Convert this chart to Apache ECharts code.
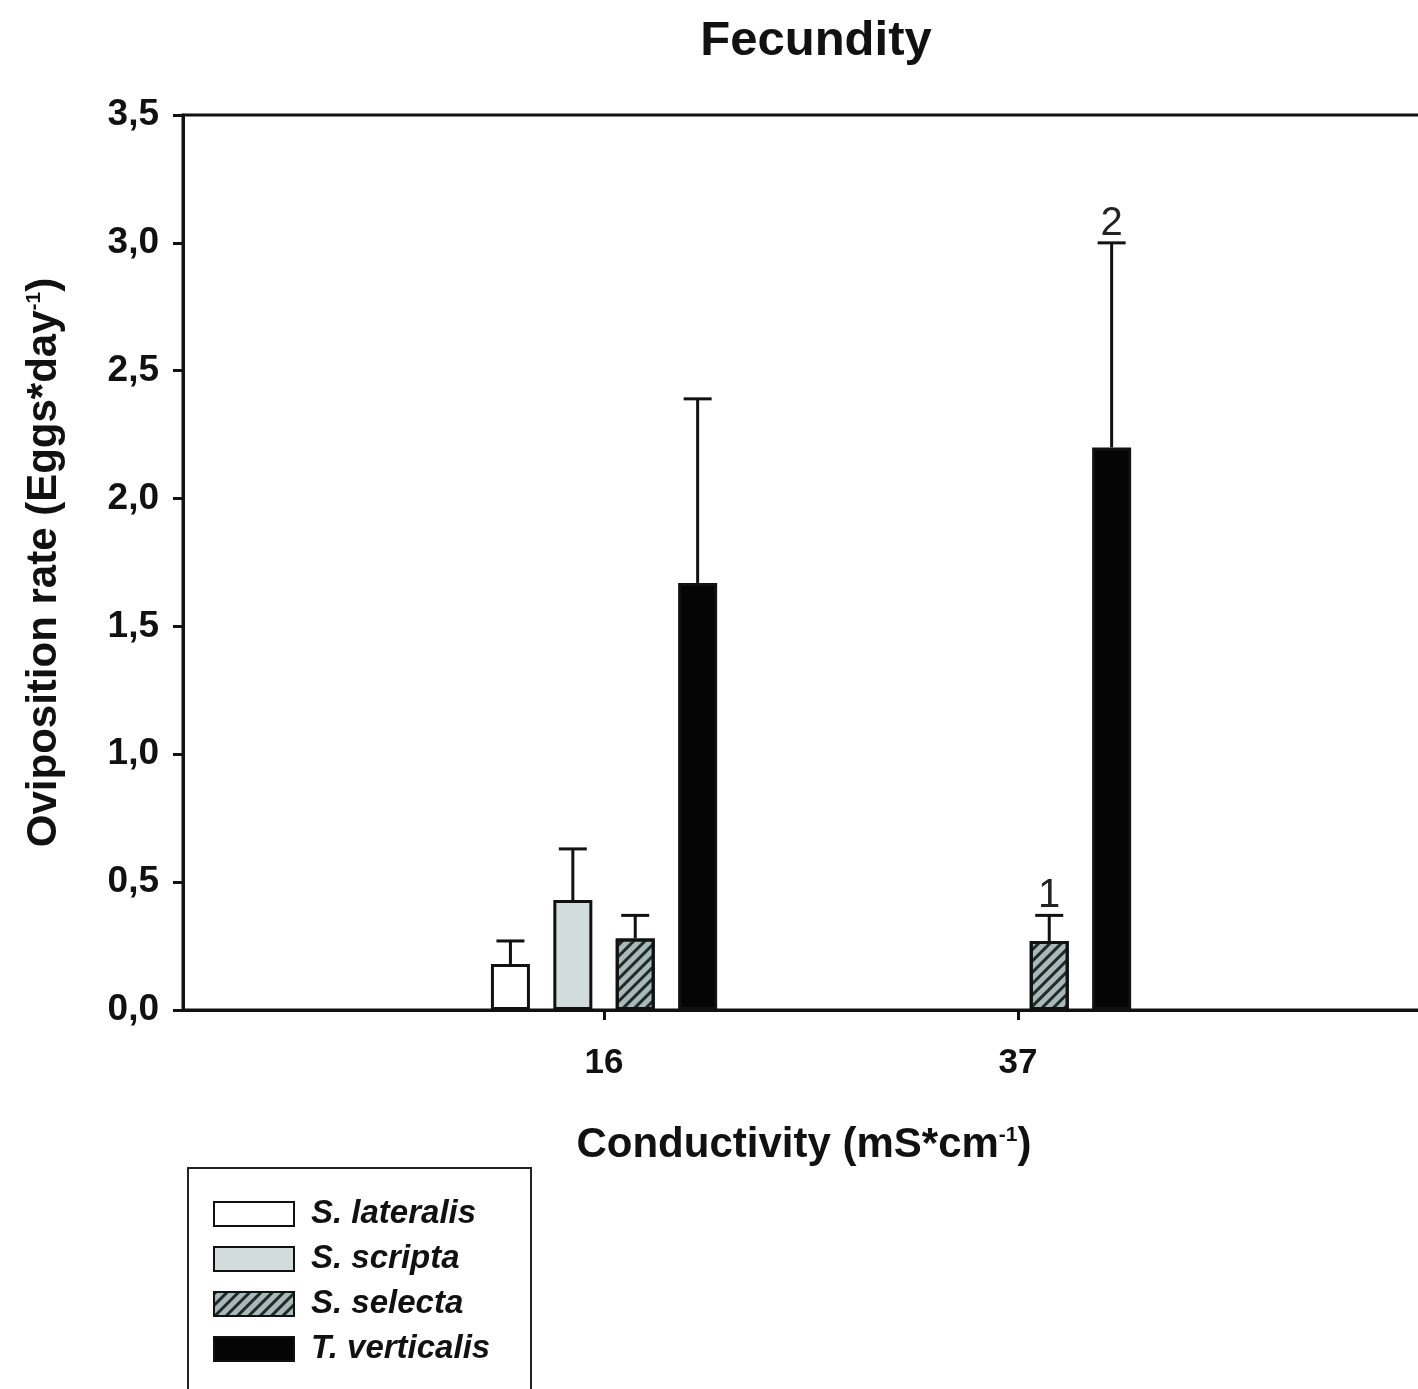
<!DOCTYPE html>
<html>
<head>
<meta charset="utf-8">
<script src="https://cdn.jsdelivr.net/npm/echarts@6/dist/echarts.min.js"></script>
<style>
html,body{margin:0;padding:0;background:#fff;overflow:hidden;}
#chart{width:1440px;height:1389px;}
</style>
</head>
<body>
<div id="chart"></div>
<script>
// ---- data ----
var categories = ['16', '37'];          // conductivity groups (drawn at slots 1 and 2)
var categorySlots = [1, 2];
var speciesNames = ['S. lateralis', 'S. scripta', 'S. selecta', 'T. verticalis'];
var lateralisMean = [0.18, null];
var scriptaMean   = [0.43, null];
var selectaMean   = [0.28, 0.27];
var verticalisMean= [1.67, 2.20];
var lateralisUpper = [0.27, null];
var scriptaUpper   = [0.63, null];
var selectaUpper   = [0.37, 0.37];
var verticalisUpper= [2.39, 3.00];
// significance labels: [groupIndex, speciesIndex, text]
var sigLabels = [[1, 2, '1'], [1, 3, '2']];
var yTicksMin = 0, yTicksMax = 3.5, yTicksStep = 0.5;

var means = [lateralisMean, scriptaMean, selectaMean, verticalisMean];
var uppers = [lateralisUpper, scriptaUpper, selectaUpper, verticalisUpper];

var BAR_W = 39, BAR_GAP = 0.6;
var fills = ['#ffffff', '#d3dcdc', '#a9b9b9', '#050505'];

var chart = echarts.init(document.getElementById('chart'), null, {renderer: 'canvas'});

var series = speciesNames.map(function (name, s) {
  var it = {color: fills[s], borderColor: '#111', borderWidth: 3};
  if (s === 2) {
    it.decal = {symbol: 'rect', symbolSize: 1, dashArrayX: [1, 0], dashArrayY: [2.5, 4.5], rotation: -Math.PI / 4, color: '#1e2b2b'};
  }
  var d = [];
  means[s].forEach(function (v, g) { if (v != null) d.push([categorySlots[g], v]); });
  return {
    name: name, type: 'bar', barWidth: BAR_W, barGap: (BAR_GAP * 100) + '%',
    data: d, itemStyle: it, emphasis: {disabled: true}, z: 2
  };
});

var errData = [];
means.forEach(function (arr, s) {
  arr.forEach(function (v, g) {
    if (v != null) errData.push([categorySlots[g], v, uppers[s][g], s, g]);
  });
});

series.push({
  type: 'custom', name: 'err', z: 3, silent: true,
  encode: {x: 0, y: 2},
  data: errData,
  renderItem: function (params, api) {
    var c = api.value(0), s = api.value(3), g = api.value(4);
    var off = (s - 1.5) * BAR_W * (1 + BAR_GAP);
    var base = api.coord([c, api.value(1)]);
    var top = api.coord([c, api.value(2)]);
    var x = base[0] + off;
    var children = [
      {type: 'line', shape: {x1: x, y1: base[1], x2: x, y2: top[1]}, style: {stroke: '#111', lineWidth: 3}},
      {type: 'line', shape: {x1: x - 14, y1: top[1], x2: x + 14, y2: top[1]}, style: {stroke: '#111', lineWidth: 3}}
    ];
    sigLabels.forEach(function (l) {
      if (l[0] === g && l[1] === s) {
        children.push({type: 'text', style: {text: l[2], x: x, y: top[1] + 1, align: 'center', verticalAlign: 'bottom', font: 'normal 40px "Liberation Sans", Arial, sans-serif', fill: '#222'}});
      }
    });
    return {type: 'group', children: children};
  }
});

var font = '"Liberation Sans", Arial, Helvetica, sans-serif';

chart.setOption({
  animation: false,
  backgroundColor: '#fff',
  title: {
    text: 'Fecundity', left: 811, top: 12, textAlign: 'center',
    textStyle: {fontFamily: font, fontWeight: 'bold', fontSize: 49, color: '#111'}
  },
  graphic: [{
    type: 'rect', left: 187, top: 1167, z: 0, silent: true,
    shape: {width: 343, height: 300},
    style: {fill: '#fff', stroke: '#222', lineWidth: 2}
  }],
  grid: {left: 183, top: 115, width: 1242, height: 895, show: true, borderColor: '#111', borderWidth: 3, backgroundColor: 'transparent'},
  legend: {
    orient: 'vertical', left: 213, top: 1197,
    padding: 0,
    itemWidth: 80, itemHeight: 24, itemGap: 11,
    icon: 'rect', z: 5,
    data: speciesNames,
    textStyle: {fontFamily: font, fontWeight: 'bold', fontStyle: 'italic', fontSize: 33, color: '#111', lineHeight: 34, padding: [0, 0, 0, 12]},
    selectedMode: false
  },
  xAxis: {
    type: 'value', min: -0.017, max: 2.983,
    axisLine: {show: true, onZero: false, lineStyle: {color: '#111', width: 3}},
    axisTick: {show: true, length: 10, lineStyle: {color: '#111', width: 3}, customValues: categorySlots},
    axisLabel: {fontFamily: font, fontWeight: 'bold', fontSize: 35, color: '#111', margin: 36,
      customValues: categorySlots,
      formatter: function (v) { var i = categorySlots.indexOf(Math.round(v)); return i >= 0 ? categories[i] : ''; }},
    splitLine: {show: false},
    name: 'Conductivity (mS*cm{sup|-1})', nameLocation: 'middle', nameGap: 114,
    nameTextStyle: {fontFamily: font, fontWeight: 'bold', fontSize: 42, color: '#111',
      rich: {sup: {fontFamily: font, fontWeight: 'bold', fontSize: 21, color: '#111', padding: [0, 0, 20, 0]}}}
  },
  yAxis: {
    type: 'value', min: yTicksMin, max: yTicksMax, interval: yTicksStep,
    axisLine: {show: true, onZero: false, lineStyle: {color: '#111', width: 3}},
    axisTick: {show: true, length: 10, lineStyle: {color: '#111', width: 3}},
    axisLabel: {fontFamily: font, fontWeight: 'bold', fontSize: 37, color: '#111', margin: 24,
      formatter: function (v) { return v.toFixed(1).replace('.', ','); }},
    splitLine: {show: false},
    name: 'Oviposition rate (Eggs*day{sup|-1})', nameLocation: 'middle', nameRotate: 90, nameGap: 118,
    nameTextStyle: {fontFamily: font, fontWeight: 'bold', fontSize: 42, color: '#111',
      rich: {sup: {fontFamily: font, fontWeight: 'bold', fontSize: 21, color: '#111', padding: [0, 0, 20, 0]}}}
  },
  series: series
});
</script>
</body>
</html>
